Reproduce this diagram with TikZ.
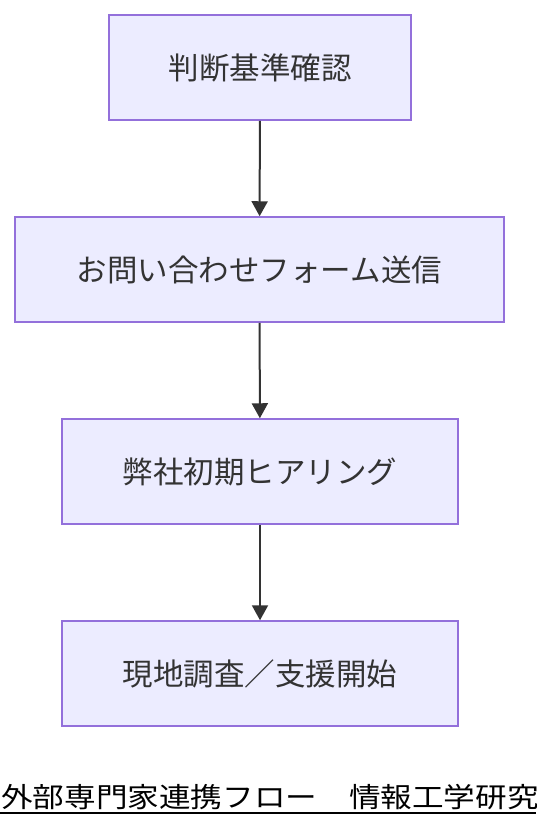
\documentclass[tikz,border=0pt]{standalone}
\usepackage{fontspec}
\setmainfont{Noto Sans CJK JP}
\newfontfamily\capfont[FakeStretch=1.15]{Noto Sans CJK JP}
\usetikzlibrary{positioning}
\usetikzlibrary{arrows.meta}
\definecolor{boxfill}{HTML}{ECECFF}
\definecolor{boxline}{HTML}{9370DB}
\definecolor{ink}{HTML}{333333}

\tikzset{
  stepbox/.style={draw=boxline, fill=boxfill, line width=1.5pt, minimum height=105pt,
    inner sep=0pt, text=ink, font=\fontsize{30.5}{36}\selectfont},
  flow/.style={draw=ink, line width=2pt, -{Triangle[length=15pt,width=16pt]}}
}

\begin{document}
\begin{tikzpicture}[x=1pt, y=-1pt]
\useasboundingbox (0,0) rectangle (536,828);
\clip (0,0) rectangle (536,828);
\node[stepbox, minimum width=302pt] (check) at (260,67.5) {判断基準確認};
\node[stepbox, minimum width=489pt] (form) at (259.5,269.5) {お問い合わせフォーム送信};
\node[stepbox, minimum width=396pt] (hear) at (260,471.5) {弊社初期ヒアリング};
\node[stepbox, minimum width=396pt] (start) at (260,673.5) {現地調査／支援開始};
\draw[flow] (check) -- (form);
\draw[flow] (form) -- (hear);
\draw[flow] (hear) -- (start);
% caption, cut off at the right edge
\node[anchor=base west, inner sep=0pt, font=\capfont\fontsize{27.5}{32}\selectfont] (cap) at (1,807) {外部専門家連携フロー　情報工学研究};
\draw[line width=2pt] (0,813) -- (536,813);
\end{tikzpicture}
\end{document}
